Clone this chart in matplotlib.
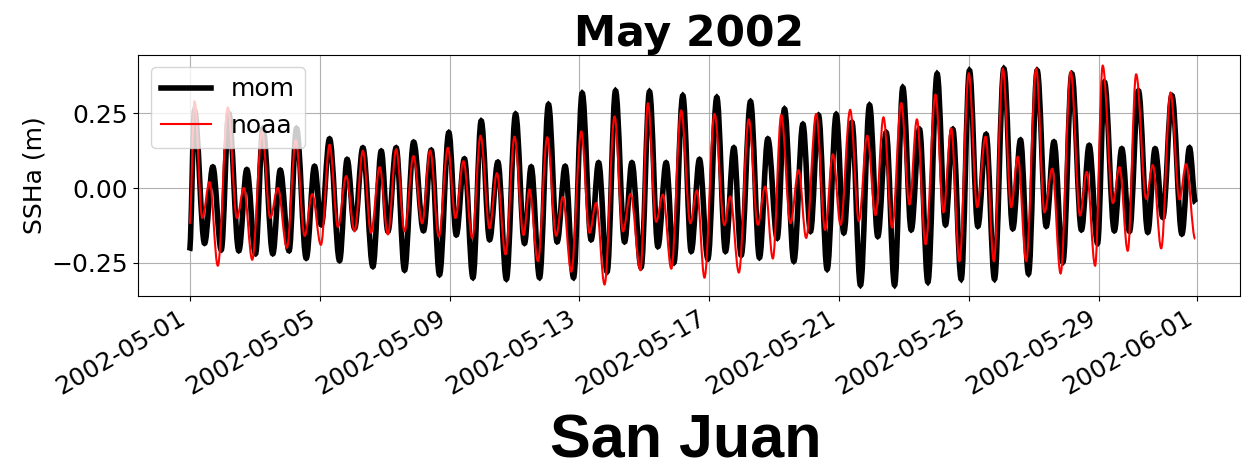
import numpy as np
import matplotlib
matplotlib.use("Agg")
import matplotlib.pyplot as plt
import matplotlib.dates as mdates
from matplotlib.path import Path
from matplotlib.patches import PathPatch
from matplotlib.lines import Line2D

# tidal extrema: hours since 2002-05-01 00:00, SSHa (m)
mom_hours = [0, 3.7, 11.1, 17.2, 23.4, 29.0, 36.4, 42.3, 48.7, 54.2, 61.5, 67.0,
             73.5, 79.0, 86.2, 92.3, 97.3, 103.4, 110.8, 116.4, 121.9, 128.0, 135.4,
             141.6, 146.5, 152.6, 158.8, 165.5, 172.8, 178.5, 184.6, 191.5, 197.0,
             203.0, 209.3, 215.4, 221.6, 227.7, 234.0, 240.8, 247.4, 252.3, 258.5,
             265.1, 271.5, 277.4, 283.6, 290.0, 296.6, 302.1, 308.4, 314.6, 321.3,
             326.7, 333.5, 339.7, 345.9, 352.0, 357.7, 364.3, 370.5, 376.6, 382.8,
             389.4, 395.8, 402.0, 407.4, 414.3, 420.9, 427.1, 434.0, 439.4, 446.3,
             453.0, 458.6, 464.5, 470.9, 477.6, 483.2, 489.2, 495.5, 502.2, 508.3,
             514.5, 520.7, 526.8, 533.0, 539.1, 545.3, 552.1, 558.3, 563.7, 569.9,
             576.0, 582.2, 588.3, 594.5, 601.4, 608.0, 613.7, 619.6, 626.0, 632.7,
             638.4, 645.0, 651.6, 658.7, 664.4, 670.6, 675.7, 683.0, 688.5, 694.2,
             700.8, 707.7, 713.1, 718.8, 725.5, 732.9, 738.5, 743.0]
mom_ssh = [-0.21, 0.26, -0.185, 0.071, -0.207, 0.25, -0.21, 0.062, -0.22, 0.20, -0.22, 0.06,
           -0.21, 0.20, -0.235, 0.073, -0.123, 0.165, -0.243, 0.096, -0.135, 0.135, -0.263,
           0.124, -0.145, 0.135, -0.275, 0.154, -0.143, 0.127, -0.29, 0.186, -0.157,
           0.098, -0.30, 0.225, -0.173, 0.087, -0.305, 0.248, -0.185, 0.071, -0.30,
           0.28, -0.18, 0.073, -0.30, 0.318, -0.173, 0.085, -0.28, 0.326, -0.18,
           0.085, -0.265, 0.323, -0.196, 0.085, -0.25, 0.31, -0.212, 0.096, -0.237,
           0.304, -0.212, 0.135, -0.225, 0.29, -0.233, 0.165, -0.168, 0.265, -0.245,
           0.214, -0.145, 0.244, -0.272, 0.247, -0.15, 0.22, -0.325, 0.278, -0.162,
           0.186, -0.325, 0.337, -0.14, 0.197, -0.315, 0.383, -0.123, 0.197, -0.305,
           0.394, -0.128, 0.18, -0.305, 0.40, -0.136, 0.161, -0.287, 0.394, -0.128,
           0.155, -0.248, 0.383, -0.14, 0.143, -0.185, 0.355, -0.143, 0.132, -0.145,
           0.326, -0.148, 0.132, -0.098, 0.31, -0.154, 0.135, -0.05]

noaa_hours = [0, 3.7, 9.4, 14.8, 20.9, 28.3, 35.0, 40.1, 46.3, 53.6, 59.6, 65.2,
              71.9, 78.5, 85.0, 90.6, 97.0, 103.4, 109.6, 115.7, 121.9, 128.0, 134.0,
              140.4, 146.5, 152.6, 158.8, 165.4, 171.8, 177.7, 184.1, 190.8, 196.4,
              202.3, 208.8, 214.9, 221.6, 227.0, 233.4, 240.0, 246.7, 251.0, 257.3,
              264.2, 270.8, 275.7, 281.9, 289.3, 295.4, 300.3, 306.5, 313.9, 320.1,
              325.7, 333.0, 338.5, 344.6, 349.6, 355.8, 363.1, 369.9, 374.7, 380.3,
              387.7, 395.0, 399.3, 405.7, 413.0, 419.7, 425.1, 430.8, 437.0, 443.8,
              449.8, 455.4, 462.8, 469.4, 475.1, 480.8, 487.9, 494.3, 500.5, 506.6,
              512.5, 518.9, 525.6, 531.7, 537.2, 543.6, 550.9, 556.8, 562.5, 568.6,
              575.5, 581.7, 587.9, 594.0, 600.7, 606.8, 611.7, 617.9, 625.3, 631.4,
              637.1, 643.3, 650.8, 657.7, 662.6, 668.8, 674.4, 681.9, 686.8, 692.9,
              699.1, 706.5, 711.4, 717.6, 724.5, 731.1, 736.0, 742.7]
noaa_ssh = [-0.12, 0.29, -0.10, 0.02, -0.26, 0.27, -0.10, 0.0, -0.24, 0.19, -0.10, 0.0,
            -0.20, 0.16, -0.16, -0.02, -0.19, 0.145, -0.13, 0.04, -0.145, 0.125, -0.15,
            0.07, -0.155, 0.13, -0.145, 0.107, -0.118, 0.126, -0.163, 0.135, -0.10,
            0.09, -0.168, 0.175, -0.135, 0.05, -0.222, 0.172, -0.157, -0.005, -0.245,
            0.17, -0.16, -0.03, -0.28, 0.19, -0.15, -0.05, -0.323, 0.24, -0.145,
            -0.02, -0.275, 0.284, -0.113, -0.022, -0.27, 0.26, -0.118, -0.008, -0.30,
            0.248, -0.124, -0.028, -0.283, 0.23, -0.123, 0.005, -0.236, 0.245, -0.118,
            0.06, -0.167, 0.248, -0.14, 0.113, -0.123, 0.262, -0.11, 0.175, -0.09,
            0.237, -0.132, 0.285, -0.055, 0.23, -0.188, 0.313, -0.081, 0.20, -0.245,
            0.384, -0.064, 0.172, -0.245, 0.40, -0.064, 0.105, -0.245, 0.40, -0.081,
            0.065, -0.286, 0.39, -0.092, 0.054, -0.26, 0.41, -0.05, 0.07, -0.21,
            0.381, -0.036, 0.077, -0.202, 0.32, -0.038, 0.08, -0.17]

tick_days = [1, 5, 9, 13, 17, 21, 25, 29]
start = np.datetime64("2002-05-01T00:00")


def to_num(hours):
    mins = (np.asarray(hours, dtype=float) * 60).astype("timedelta64[m]")
    return mdates.date2num(start + mins)


def tide_path(x, y, k=0.36):
    # smooth curve through the extrema, flat tangent at each one
    verts = [(x[0], y[0])]
    codes = [Path.MOVETO]
    for i in range(1, len(x)):
        dx = x[i] - x[i - 1]
        verts += [(x[i - 1] + k * dx, y[i - 1]), (x[i] - k * dx, y[i]), (x[i], y[i])]
        codes += [Path.CURVE4] * 3
    return Path(verts, codes)


fig = plt.figure(figsize=(12.44, 4.70), dpi=100)
ax = fig.add_axes([0.111, 0.37, 0.886, 0.513])

ax.add_patch(PathPatch(tide_path(to_num(mom_hours), mom_ssh), fill=False,
                       edgecolor="black", lw=4, zorder=2))
ax.add_patch(PathPatch(tide_path(to_num(noaa_hours), noaa_ssh), fill=False,
                       edgecolor="red", lw=1.5, zorder=3))

ax.xaxis_date()
ax.set_xlim(to_num(-38), to_num(776))
ax.set_ylim(-0.362, 0.446)
ax.xaxis.set_major_locator(mdates.DayLocator(bymonthday=tick_days))
ax.xaxis.set_major_formatter(mdates.DateFormatter("%Y-%m-%d"))
ax.set_yticks([-0.25, 0.0, 0.25])
ax.grid(True)
ax.tick_params(labelsize=18)
plt.setp(ax.get_xticklabels(), rotation=30, ha="right")
ax.set_ylabel("SSHa (m)", fontsize=18)
ax.set_title("May 2002", fontsize=30.5, fontweight="bold")

handles = [Line2D([], [], color="black", lw=4, label="mom"),
           Line2D([], [], color="red", lw=1.5, label="noaa")]
ax.legend(handles=handles, loc="upper left", fontsize=18)

fig.text(0.551, 0.0, "San Juan", ha="center", va="bottom", fontsize=44,
         fontweight="bold", family="Liberation Sans")

fig.savefig("out.png", dpi=100)
